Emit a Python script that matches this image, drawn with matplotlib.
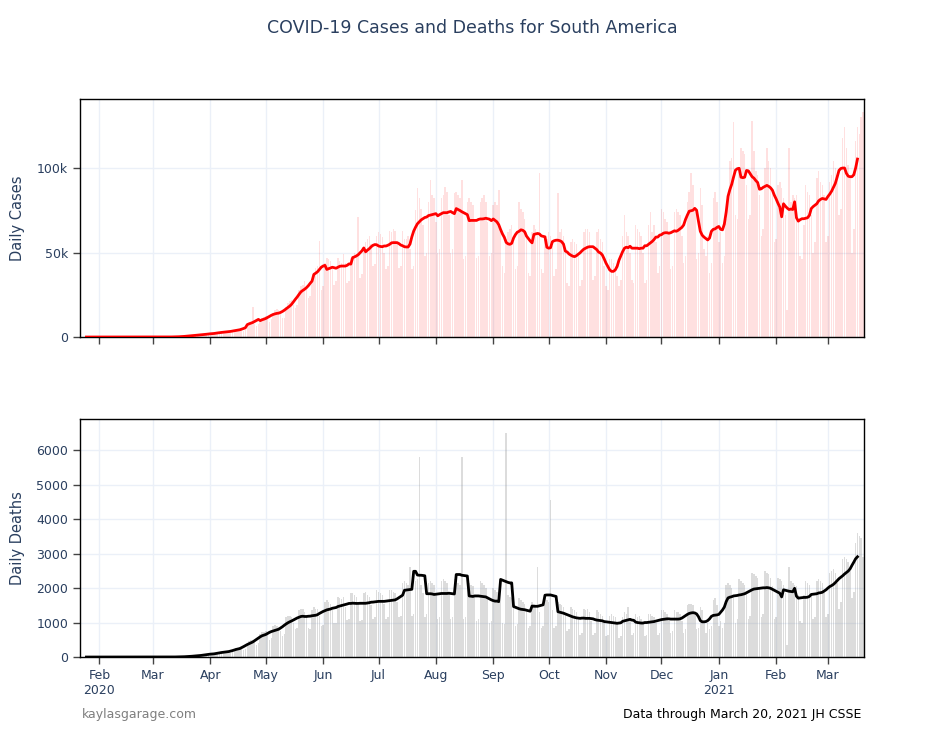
import numpy as np
import pandas as pd
import matplotlib
matplotlib.use("Agg")
import matplotlib.pyplot as plt
import matplotlib.dates as mdates
from matplotlib.ticker import FuncFormatter

plt.rcParams['font.family'] = ['DejaVu Sans']

# daily new cases for South America, in thousands, one list per month
# (Jan 22 2020 .. Mar 20 2021)
cases_2020_01 = [0, 0, 0, 0, 0, 0, 0, 0, 0, 0]
cases_2020_02 = [0, 0, 0, 0, 0, 0, 0, 0, 0, 0, 0, 0, 0, 0, 0, 0, 0, 0, 0, 0,
                 0, 0, 0, 0, 0, 0.001, 0, 0, 0.001]
cases_2020_03 = [0.001, 0.001, 0.002, 0.002, 0.004, 0.006, 0.01, 0.012, 0.02, 0.03,
                 0.04, 0.06, 0.08, 0.1, 0.15, 0.2, 0.28, 0.35, 0.45, 0.55,
                 0.7, 0.8, 0.9, 1.0, 1.1, 1.2, 1.3, 1.4, 1.3, 1.5, 1.9]
cases_2020_04 = [2.0, 2.2, 2.4, 2.1, 1.8, 2.3, 2.9, 3.3, 3.4, 3.2, 2.9, 2.5, 3.0, 3.9, 4.4,
                 4.6, 4.8, 4.2, 3.8, 4.5, 6.5, 7.0, 8.0, 17.5, 7.5, 6.5, 7.5, 10.5, 11.5, 12.0]
cases_2020_05 = [12.5, 11.0, 9.0, 10.5, 14.5, 16.0, 16.5, 16.0, 13.5, 11.0, 11.5, 17.5, 20.0,
                 21.5, 22.0, 19.0, 17.0, 19.0, 28.0, 30.0, 31.0, 33.0, 29.0, 23.0, 24.0,
                 34.5, 38.0, 41.0, 42.0, 57.0, 28.0]
cases_2020_06 = [30, 44, 47, 46, 45, 40, 31, 33, 47, 45, 44, 49, 44, 32, 33,
                 47, 48, 50, 48, 71, 35, 37, 52, 56, 58, 60, 55, 42, 43, 60]
cases_2020_07 = [62, 61, 59, 50, 40, 42, 63, 62, 64, 63, 56, 41, 42, 63, 58, 58,
                 60, 52, 40, 42, 75, 88, 82, 76, 66, 48, 50, 80, 93, 84, 82]
cases_2020_08 = [68, 50, 52, 82, 84, 89, 86, 72, 50, 52, 85, 86, 84, 82, 93, 46,
                 48, 80, 82, 80, 78, 68, 47, 48, 80, 82, 84, 80, 68, 48, 50]
cases_2020_09 = [78, 80, 78, 87, 62, 42, 38, 58, 62, 64, 66, 56, 40, 42, 80,
                 76, 74, 70, 62, 38, 36, 62, 66, 64, 62, 97, 40, 38, 60, 58]
cases_2020_10 = [62, 60, 54, 36, 40, 85, 62, 64, 60, 52, 32, 30, 56, 58, 56, 55,
                 48, 30, 34, 62, 64, 64, 62, 52, 34, 36, 62, 64, 58, 56, 42]
cases_2020_11 = [30, 28, 46, 46, 44, 42, 36, 30, 34, 60, 72, 62, 60, 50, 34,
                 32, 66, 64, 62, 60, 50, 32, 34, 66, 74, 62, 66, 56, 38, 42]
cases_2020_12 = [76, 74, 70, 68, 62, 40, 42, 74, 76, 74, 72, 60, 44, 48, 80, 86,
                 97, 90, 76, 46, 50, 88, 78, 52, 48, 60, 38, 44, 82, 86, 80]
cases_2021_01 = [56, 62, 44, 48, 70, 84, 104, 106, 127, 72, 70, 100, 112, 110, 108, 90,
                 70, 72, 128, 110, 98, 96, 84, 60, 64, 100, 112, 104, 100, 88, 56]
cases_2021_02 = [58, 90, 92, 88, 82, 72, 16, 112, 80, 84, 82, 84, 70, 48,
                 46, 66, 90, 86, 84, 72, 50, 56, 94, 98, 92, 90, 84, 56]
cases_2021_03 = [60, 92, 96, 104, 100, 96, 72, 76, 118, 124, 112, 102, 96, 50,
                 64, 116, 124, 120, 130, 133]

# daily new deaths for South America
deaths_2020_01 = [0, 0, 0, 0, 0, 0, 0, 0, 0, 0]
deaths_2020_02 = [0, 0, 0, 0, 0, 0, 0, 0, 0, 0, 0, 0, 0, 0, 0, 0, 0, 0, 0, 0,
                  0, 0, 0, 0, 0, 0, 0, 0, 0]
deaths_2020_03 = [0, 0, 0, 0, 0, 0, 0, 1, 0, 1, 1, 2, 1, 3, 4, 5, 7, 9, 10, 14,
                  18, 22, 25, 30, 38, 42, 48, 55, 52, 62, 78]
deaths_2020_04 = [90, 100, 110, 95, 80, 95, 150, 165, 170, 160, 140, 110, 140, 230, 260,
                  270, 290, 250, 200, 230, 420, 460, 480, 500, 430, 360, 420, 680, 720, 740]
deaths_2020_05 = [760, 640, 480, 560, 900, 930, 900, 880, 760, 600, 680, 1150, 1180, 1200,
                  1150, 1000, 800, 850, 1350, 1400, 1380, 1300, 1150, 850, 800, 1350, 1450,
                  1400, 1380, 1200, 900]
deaths_2020_06 = [920, 1600, 1650, 1600, 1550, 1350, 1000, 1000, 1750, 1720, 1680, 1750,
                  1450, 1080, 1100, 1850, 1850, 1800, 1750, 1500, 1050, 1080, 1850, 1880,
                  1800, 1750, 1500, 1100, 1150, 1950]
deaths_2020_07 = [1900, 1850, 1800, 1550, 1100, 1150, 1950, 1950, 1900, 1850, 1600, 1150,
                  1200, 2150, 2200, 2150, 2100, 2600, 1200, 1250, 2200, 2250, 5800, 2100,
                  1850, 1150, 1250, 2150, 2200, 2150, 2100]
deaths_2020_08 = [1850, 1100, 1150, 2200, 2250, 2200, 2150, 1850, 1100, 1150, 2250, 2200,
                  2150, 2100, 5800, 1100, 1150, 2100, 2150, 2100, 2050, 1750, 1050, 1100,
                  2200, 2150, 2100, 2000, 1700, 1000, 1050]
deaths_2020_09 = [2000, 1950, 1900, 1850, 1600, 1000, 950, 6500, 1800, 1750, 1700, 1450,
                  900, 950, 1700, 1650, 1600, 1550, 1350, 850, 900, 1600, 1550, 1500,
                  2600, 1300, 850, 900, 1700, 1650]
deaths_2020_10 = [1600, 4550, 1350, 850, 900, 1600, 1550, 1500, 1450, 1250, 750, 800,
                  1450, 1400, 1350, 1300, 1100, 650, 700, 1400, 1350, 1400, 1300, 1050,
                  650, 700, 1350, 1300, 1250, 1200, 1000]
deaths_2020_11 = [600, 650, 1200, 1250, 1200, 1150, 950, 550, 600, 1150, 1300, 1250,
                  1450, 1050, 650, 700, 1250, 1150, 1200, 1100, 950, 600, 650, 1250,
                  1250, 1200, 1150, 1000, 650, 700]
deaths_2020_12 = [1350, 1350, 1300, 1250, 1050, 700, 750, 1350, 1300, 1300, 1250, 1050,
                  700, 800, 1500, 1550, 1550, 1500, 1250, 800, 850, 1450, 1350, 1000,
                  700, 1000, 800, 900, 1650, 1700, 1500]
deaths_2021_01 = [900, 1050, 850, 1000, 2100, 2150, 2100, 2000, 1800, 1000, 1100, 2250,
                  2200, 2150, 2100, 1850, 1100, 1200, 2450, 2400, 2350, 2300, 2000, 1150,
                  1250, 2500, 2450, 2400, 2300, 2050, 1100]
deaths_2021_02 = [1150, 2300, 2250, 2200, 2100, 1850, 350, 2600, 2200, 2150, 2100, 2050,
                  1800, 1050, 1000, 1800, 2200, 2150, 2100, 1800, 1100, 1150, 2200, 2250,
                  2200, 2150, 1950, 1150]
deaths_2021_03 = [1250, 2450, 2500, 2550, 2450, 2150, 1400, 1600, 2850, 2900, 2850, 2750,
                  2500, 1700, 1900, 3300, 3600, 3500, 3450, 2900]

cases_k = (cases_2020_01 + cases_2020_02 + cases_2020_03 + cases_2020_04 + cases_2020_05
           + cases_2020_06 + cases_2020_07 + cases_2020_08 + cases_2020_09 + cases_2020_10
           + cases_2020_11 + cases_2020_12 + cases_2021_01 + cases_2021_02 + cases_2021_03)
deaths = (deaths_2020_01 + deaths_2020_02 + deaths_2020_03 + deaths_2020_04 + deaths_2020_05
          + deaths_2020_06 + deaths_2020_07 + deaths_2020_08 + deaths_2020_09 + deaths_2020_10
          + deaths_2020_11 + deaths_2020_12 + deaths_2021_01 + deaths_2021_02 + deaths_2021_03)

dates = pd.date_range("2020-01-22", periods=len(cases_k), freq="D")
df = pd.DataFrame({"cases": np.array(cases_k) * 1000, "deaths": deaths}, index=dates)
# centred 7-day average, as in the original
df["cases_avg"] = df["cases"].rolling(7, center=True).mean()
df["deaths_avg"] = df["deaths"].rolling(7, center=True).mean()

text_col = "#2a3f5f"
grid_col = "#ebf0f8"

fig = plt.figure(figsize=(9.44, 7.37), dpi=100)
ax1 = fig.add_axes([0.0847, 0.5427, 0.8305, 0.3229])
ax2 = fig.add_axes([0.0847, 0.1085, 0.8305, 0.3229], sharex=ax1)

ax1.bar(df.index, df["cases"], width=0.8, color=(1, 0, 0, 0.12), linewidth=0, zorder=2)
ax1.plot(df.index, df["cases_avg"], color="red", lw=2, zorder=3)
ax2.bar(df.index, df["deaths"], width=0.8, color=(0.55, 0.55, 0.55, 0.3), linewidth=0, zorder=2)
ax2.plot(df.index, df["deaths_avg"], color="black", lw=2, zorder=3)

ax1.set_ylim(0, 140800)
ax2.set_ylim(0, 6900)
ax1.set_yticks([0, 50000, 100000])
ax1.yaxis.set_major_formatter(FuncFormatter(lambda v, p: "0" if v == 0 else f"{int(v/1000)}k"))
ax2.set_yticks([0, 1000, 2000, 3000, 4000, 5000, 6000])

ax1.set_xlim(pd.Timestamp("2020-01-21 12:00"), pd.Timestamp("2021-03-20 12:00"))
ax2.xaxis.set_major_locator(mdates.MonthLocator())


def month_label(v, pos):
    d = mdates.num2date(v)
    lab = d.strftime("%b")
    if d.month == 1 or (d.year == 2020 and d.month == 2):
        lab += "\n" + str(d.year)
    return lab


ax2.xaxis.set_major_formatter(FuncFormatter(month_label))
plt.setp(ax1.get_xticklabels(), visible=False)

for ax in (ax1, ax2):
    ax.set_axisbelow(True)
    ax.grid(True, color=grid_col, lw=1, zorder=0)
    for s in ax.spines.values():
        s.set_color("black")
        s.set_linewidth(1)
    ax.tick_params(axis="both", colors="#444444", labelcolor=text_col, labelsize=9,
                   length=5, width=1)

ax1.set_ylabel("Daily Cases", color=text_col, fontsize=10.5)
ax2.set_ylabel("Daily Deaths", color=text_col, fontsize=10.5)
ax1.yaxis.set_label_coords(-0.07, 0.5)
ax2.yaxis.set_label_coords(-0.07, 0.5)

fig.text(0.5, 0.962, "COVID-19 Cases and Deaths for South America", ha="center", va="center",
         color=text_col, fontsize=12.5)
fig.text(0.087, 0.031, "kaylasgarage.com", ha="left", va="center", color="#7f7f7f", fontsize=9)
fig.text(0.912, 0.031, "Data through March 20, 2021 JH CSSE", ha="right", va="center",
         color="black", fontsize=9)

fig.savefig("out.png", dpi=100)
